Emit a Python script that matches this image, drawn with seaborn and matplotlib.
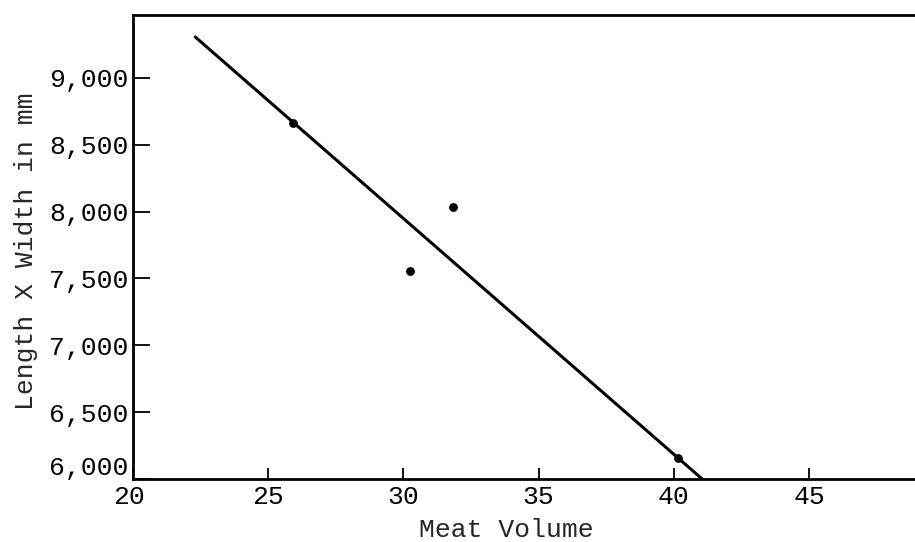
import seaborn as sns
import matplotlib.pyplot as plt
import matplotlib.transforms as mtransforms
import pandas as pd

meat_volume = [25.9, 30.25, 31.85, 40.15]
area = [8665, 7555, 8035, 6160]

# 손으로 그은 추세선의 양 끝
fit_x = [22.3, 41.05]
fit_y = [9307, 6000]

x_ticks = [20, 25, 30, 35, 40, 45]
y_ticks = [6000, 6500, 7000, 7500, 8000, 8500, 9000]
y_tick_labels = ['6,000', '6,500', '7,000', '7,500', '8,000', '8,500', '9,000']

sns.set_style('ticks')
plt.rcParams['font.family'] = ['Liberation Mono', 'DejaVu Sans Mono']

df = pd.DataFrame({'volume': meat_volume, 'area': area})
df_fit = pd.DataFrame({'volume': fit_x, 'area': fit_y})

fig = plt.figure(figsize=(9.15, 5.42), dpi=100)
ax = fig.add_axes([0.1454, 0.1162, 0.8546, 0.8561])

sns.lineplot(data=df_fit, x='volume', y='area', color='black', linewidth=2.2, ax=ax)
sns.scatterplot(data=df, x='volume', y='area', color='black', s=40,
                edgecolor='black', linewidth=0, ax=ax, zorder=3)

ax.set_xlim(20, 48.92)
ax.set_ylim(6000, 9471)
ax.set_xticks(x_ticks)
ax.set_yticks(y_ticks)
ax.set_yticklabels(y_tick_labels)

ax.spines['right'].set_visible(False)
for side in ['left', 'bottom', 'top']:
    ax.spines[side].set_linewidth(2.0)
    ax.spines[side].set_color('black')

ax.tick_params(axis='y', direction='in', length=12, width=1.3, pad=3,
               labelsize=19, colors='black')
ax.tick_params(axis='x', direction='in', length=8, width=1.3, pad=4,
               labelsize=19, colors='black')

# 6,000 라벨은 원본처럼 축선 위로 살짝 올림, 20 은 살짝 왼쪽
lab_6000 = ax.get_yticklabels()[0]
lab_6000.set_transform(lab_6000.get_transform() +
                       mtransforms.ScaledTranslation(0, 10 / 72, fig.dpi_scale_trans))
lab_20 = ax.get_xticklabels()[0]
lab_20.set_transform(lab_20.get_transform() +
                     mtransforms.ScaledTranslation(-3 / 72, 0, fig.dpi_scale_trans))

ax.set_xlabel('Meat Volume', fontsize=19)
ax.set_ylabel('Length X Width in mm', fontsize=19)
ax.xaxis.set_label_coords(0.477, -0.085)
ax.yaxis.set_label_coords(-0.122, 0.49)

fig.savefig('out.png', dpi=100)
